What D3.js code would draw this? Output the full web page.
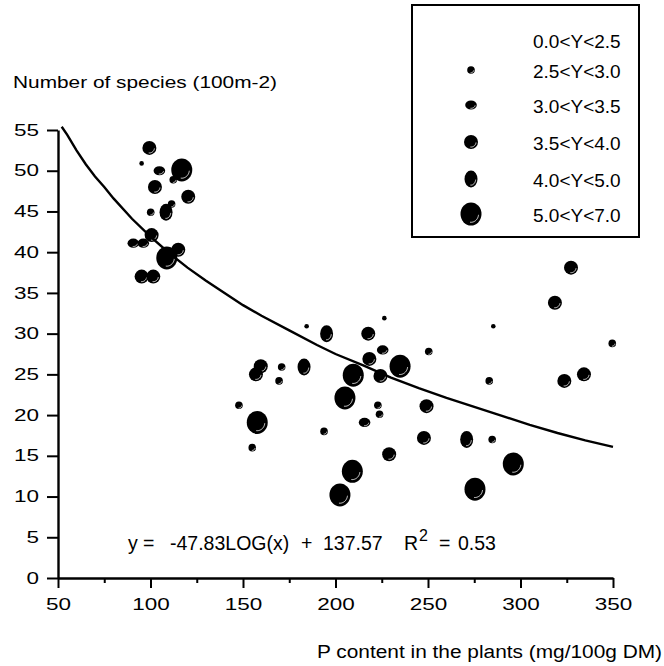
<!DOCTYPE html>
<html lang="en">
<head>
<meta charset="UTF-8">
<title>Species vs P content</title>
<script src="https://d3js.org/d3.v7.min.js"></script>
<style>
  body { margin: 0; background: #fff; }
  svg text { font-family: "Liberation Sans", Arial, sans-serif; fill: #000; }
</style>
</head>
<body>
<div id="chart"></div>
<script>
// P content (mg/100g DM), number of species, Y class (0..5)
const pContent = [99.4, 95.2, 104.8, 116.9, 112.3, 102.4, 120.4, 111.4, 108.4, 100.1, 100.6, 90.7, 96.1, 115.0, 108.8, 95.2, 101.5,
  184.4, 159.6, 157.0, 170.9, 183.0, 169.5, 147.8, 157.7, 155.0,
  226.4, 285.3, 195.2, 217.7, 225.5, 250.4, 218.3, 234.9, 209.6, 224.3, 283.1, 205.1, 249.2, 222.9, 223.8, 215.7, 193.8,
  247.8, 270.9, 284.7, 229.0, 209.1, 202.4, 275.4, 296.1,
  327.3, 318.6, 349.6, 334.3, 323.7];
const species = [52.8, 50.9, 50.0, 50.1, 48.9, 48.0, 46.8, 45.9, 44.9, 44.9, 42.1, 41.1, 41.1, 40.3, 39.3, 37.0, 37.0,
  30.9, 26.0, 25.0, 25.9, 25.9, 24.2, 21.2, 19.1, 16.0,
  31.9, 30.9, 30.0, 30.0, 28.0, 27.8, 26.9, 26.0, 24.9, 24.8, 24.2, 22.1, 21.1, 21.2, 20.1, 19.1, 18.0,
  17.2, 17.0, 17.0, 15.2, 13.1, 10.2, 10.9, 14.0,
  38.1, 33.8, 28.8, 25.0, 24.2];
const yClass = [3, 0, 2, 5, 1, 3, 3, 1, 4, 1, 3, 2, 2, 3, 5, 3, 3,
  0, 3, 3, 1, 4, 1, 1, 5, 1,
  0, 0, 4, 3, 2, 1, 3, 5, 5, 3, 1, 5, 3, 1, 1, 2, 1,
  3, 4, 1, 3, 5, 5, 5, 5,
  3, 3, 1, 3, 3];

// regression curve
const curveX = [52, 55, 60, 65, 70, 75, 80, 90, 100, 110, 120, 130, 140, 150, 160, 175, 190, 200, 215, 230, 245, 260, 275, 290, 305, 320, 335, 350];
const curveY = [55.4, 54.4, 52.5, 50.8, 49.3, 48.0, 46.6, 44.1, 41.9, 39.9, 38.1, 36.5, 35.0, 33.5, 32.2, 30.4, 28.6, 27.5, 26.1, 24.6, 23.3, 22.1, 21.0, 19.9, 18.8, 17.8, 16.9, 16.1];

const classLabels = ["0.0<Y<2.5", "2.5<Y<3.0", "3.0<Y<3.5", "3.5<Y<4.0", "4.0<Y<5.0", "5.0<Y<7.0"];
const xTicks = [50, 100, 150, 200, 250, 300, 350];
const xMinorTicks = [75, 125, 175, 225, 275, 325];
const yTicks = [0, 5, 10, 15, 20, 25, 30, 35, 40, 45, 50, 55];

// marker radii per class [rx, ry]
const classR = [[2.3, 2.3], [3.8, 3.8], [5.8, 4.6], [7, 7], [6.5, 8.5], [10.5, 11.5]];

const svg = d3.select("#chart").append("svg")
  .attr("width", 664)
  .attr("height", 666);

const x = d3.scaleLinear().domain([50, 350]).range([58, 613]);
const y = d3.scaleLinear().domain([0, 55]).range([578, 130]);

// dot with a small highlight arc
function drawDot(g, cx, cy, c) {
  const [rx, ry] = classR[c];
  g.append("ellipse")
    .attr("cx", cx).attr("cy", cy)
    .attr("rx", rx).attr("ry", ry)
    .attr("fill", "#000");
  if (rx > 3) {
    const a0 = 0.1, a1 = Math.PI / 2 + 0.2;
    const k = 0.72;
    const p = d3.path();
    p.moveTo(cx + rx * k * Math.cos(a0), cy + ry * k * Math.sin(a0));
    for (let t = a0; t <= a1; t += 0.1) {
      p.lineTo(cx + rx * k * Math.cos(t), cy + ry * k * Math.sin(t));
    }
    g.append("path")
      .attr("d", p.toString())
      .attr("fill", "none")
      .attr("stroke", "#fff")
      .attr("stroke-width", 0.8);
  }
}

// points
const dots = svg.append("g");
pContent.forEach((px, i) => drawDot(dots, x(px), y(species[i]), yClass[i]));

// curve
const line = d3.line().x(d => x(d[0])).y(d => y(d[1]));
svg.append("path")
  .datum(curveX.map((v, i) => [v, curveY[i]]))
  .attr("fill", "none")
  .attr("stroke", "#000")
  .attr("stroke-width", 2.4)
  .attr("d", line);

// x axis
svg.append("g")
  .attr("transform", "translate(0,578)")
  .call(d3.axisBottom(x).tickValues(xTicks).tickSize(10).tickPadding(11).tickSizeOuter(0));
svg.append("g")
  .attr("transform", "translate(0,578)")
  .call(d3.axisBottom(x).tickValues(xMinorTicks).tickSize(5).tickFormat("").tickSizeOuter(0))
  .select(".domain").remove();

// y axis
svg.append("g")
  .attr("transform", "translate(58,0)")
  .call(d3.axisLeft(y).tickValues(yTicks).tickSize(11).tickPadding(8).tickSizeOuter(0));

svg.selectAll(".domain").attr("stroke", "#000").attr("stroke-width", 2.4);
svg.selectAll(".tick line").attr("stroke", "#000").attr("stroke-width", 2);
svg.selectAll(".tick text")
  .style("font-size", "16px")
  .style("font-family", "'Liberation Sans', Arial, sans-serif")
  .attr("fill", "#000")
  .attr("textLength", function () { return this.textContent.length * 12.5; })
  .attr("lengthAdjust", "spacingAndGlyphs");

// axis titles
svg.append("text")
  .attr("x", 13).attr("y", 88)
  .style("font-size", "17px")
  .attr("textLength", 264)
  .attr("lengthAdjust", "spacingAndGlyphs")
  .text("Number of species (100m-2)");

svg.append("text")
  .attr("x", 317).attr("y", 658)
  .style("font-size", "18px")
  .attr("textLength", 345)
  .attr("lengthAdjust", "spacingAndGlyphs")
  .text("P content in the plants (mg/100g DM)");

// equation
const eqParts = [
  { x: 128, t: "y" }, { x: 143, t: "=" }, { x: 170, t: "-47.83LOG(x)" },
  { x: 301, t: "+" }, { x: 323, t: "137.57" }, { x: 404, t: "R" },
  { x: 419, t: "2", sup: true }, { x: 439, t: "=" }, { x: 458, t: "0.53" }
];
const eq = svg.append("g");
eqParts.forEach(p => {
  eq.append("text")
    .attr("x", p.x).attr("y", p.sup ? 541 : 550)
    .style("font-size", p.sup ? "16px" : "19.5px")
    .text(p.t);
});

// legend
svg.append("rect")
  .attr("x", 412).attr("y", 5)
  .attr("width", 227).attr("height", 232)
  .attr("fill", "none")
  .attr("stroke", "#000")
  .attr("stroke-width", 2);

const legendY = [48, 78, 113, 150, 187, 222];
const lg = svg.append("g");
classLabels.forEach((lab, i) => {
  if (i > 0) drawDot(lg, 471, legendY[i] - 8, i);
  lg.append("text")
    .attr("x", 533).attr("y", legendY[i])
    .style("font-size", "19px")
    .text(lab);
});
</script>
</body>
</html>
